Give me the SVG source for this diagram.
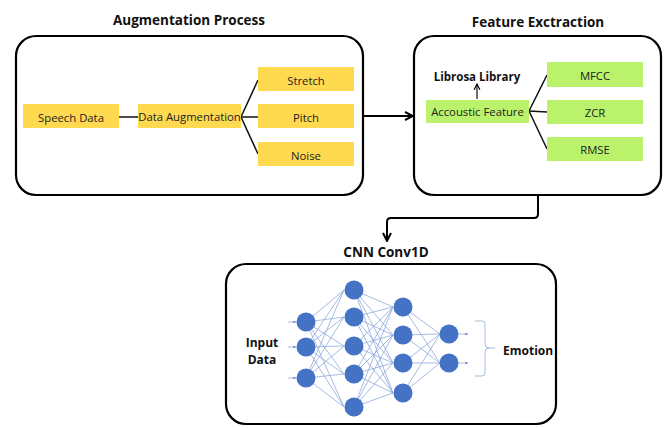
<svg xmlns="http://www.w3.org/2000/svg" width="665" height="428" viewBox="0 0 665 428">
<defs>
<style>
.frame{fill:#fff;stroke:#000;stroke-width:2.2}
.title{font-family:"Open Sans","Liberation Sans",sans-serif;font-weight:bold;font-size:13.5px;fill:#111;text-anchor:middle}
.lbl{font-family:"Open Sans","Liberation Sans",sans-serif;font-size:11.3px;fill:#222;text-anchor:middle}
.blbl{font-family:"Open Sans","Liberation Sans",sans-serif;font-weight:bold;font-size:11.5px;fill:#111;text-anchor:middle}
.yel{fill:#FFD94F}
.grn{fill:#BAF26C}
.ln{stroke:#111;stroke-width:1.5;fill:none}
.net{stroke:#8FAADC;stroke-width:0.8;fill:none}
.nd{fill:#4472C4}
</style>
<marker id="ah" viewBox="0 0 10 10" refX="9" refY="5" markerWidth="5" markerHeight="5" orient="auto"><path d="M1,1 L9,5 L1,9" fill="none" stroke="#000" stroke-width="2"/></marker>
<marker id="sah" viewBox="0 0 10 10" refX="9" refY="5" markerWidth="6" markerHeight="6" orient="auto"><path d="M1,1 L9,5 L1,9" fill="none" stroke="#000" stroke-width="1.6"/></marker>
<marker id="nah" viewBox="0 0 10 10" refX="9" refY="5" markerWidth="4" markerHeight="4" orient="auto"><path d="M0,1 L10,5 L0,9 Z" fill="#6F8FD0"/></marker>
</defs>

<g id="augmentation">
<text class="title" x="189" y="25">Augmentation Process</text>
<rect class="frame" x="16" y="36" width="347" height="159" rx="20"/>
</g>

<g id="feature">
<text class="title" x="538" y="27">Feature Exctraction</text>
<rect class="frame" x="414" y="36" width="247" height="159" rx="20"/>
</g>

<g id="cnn">
<text class="title" x="386" y="257">CNN Conv1D</text>
<rect class="frame" x="226" y="264" width="330" height="160" rx="20"/>
</g>

<g id="connectors">
<line class="ln" x1="119" y1="117" x2="138" y2="117"/>
<line class="ln" x1="241" y1="117" x2="258" y2="80"/>
<line class="ln" x1="241" y1="117" x2="258" y2="117"/>
<line class="ln" x1="241" y1="117" x2="258" y2="154"/>
<line class="ln" x1="529" y1="111" x2="547" y2="75"/>
<line class="ln" x1="529" y1="111" x2="547" y2="112"/>
<line class="ln" x1="529" y1="111" x2="547" y2="149"/>
<line x1="477" y1="99" x2="477" y2="84" stroke="#111" stroke-width="1.2" marker-end="url(#sah)"/>
<line x1="363" y1="116" x2="413" y2="116" stroke="#000" stroke-width="2" marker-end="url(#ah)"/>
<path d="M538,195 V214 Q538,218 534,218 H391 Q387,218 387,222 V241" fill="none" stroke="#000" stroke-width="2" marker-end="url(#ah)"/>
</g>

<g id="speech-data"><rect class="yel" x="23" y="104" width="96" height="24"/><text class="lbl" x="71" y="121.5">Speech Data</text></g>
<g id="data-augmentation"><rect class="yel" x="138" y="104" width="103" height="24"/><text class="lbl" x="189.5" y="120.5">Data Augmentation</text></g>
<g id="stretch"><rect class="yel" x="258" y="67" width="96" height="24"/><text class="lbl" x="306" y="84.5">Stretch</text></g>
<g id="pitch"><rect class="yel" x="258" y="104" width="96" height="24"/><text class="lbl" x="306" y="121.5">Pitch</text></g>
<g id="noise"><rect class="yel" x="258" y="142" width="96" height="24"/><text class="lbl" x="306" y="159.5">Noise</text></g>

<g id="librosa"><text class="blbl" x="477" y="81">Librosa Library</text></g>
<g id="accoustic"><rect class="grn" x="426" y="100" width="103" height="23"/><text class="lbl" x="477.5" y="115.5">Accoustic Feature</text></g>
<g id="mfcc"><rect class="grn" x="547" y="62" width="96" height="25"/><text class="lbl" x="595" y="80">MFCC</text></g>
<g id="zcr"><rect class="grn" x="547" y="100" width="96" height="24"/><text class="lbl" x="595" y="117">ZCR</text></g>
<g id="rmse"><rect class="grn" x="547" y="137" width="96" height="24"/><text class="lbl" x="595" y="154">RMSE</text></g>

<g id="network">
<g class="net">
<line x1="288" y1="322" x2="296" y2="322" marker-end="url(#nah)"/>
<line x1="288" y1="347" x2="296" y2="347" marker-end="url(#nah)"/>
<line x1="288" y1="378" x2="296" y2="378" marker-end="url(#nah)"/>
<path d="M306,322 L344,290 M306,322 L344,317 M306,322 L344,346 M306,322 L344,374 M306,322 L344,407
M306,347 L344,290 M306,347 L344,317 M306,347 L344,346 M306,347 L344,374 M306,347 L344,407
M306,378 L344,290 M306,378 L344,317 M306,378 L344,346 M306,378 L344,374 M306,378 L344,407"/>
<path d="M354,290 L393,307 M354,290 L393,335 M354,290 L393,363 M354,290 L393,393
M354,317 L393,307 M354,317 L393,335 M354,317 L393,363 M354,317 L393,393
M354,346 L393,307 M354,346 L393,335 M354,346 L393,363 M354,346 L393,393
M354,374 L393,307 M354,374 L393,335 M354,374 L393,363 M354,374 L393,393
M354,407 L393,307 M354,407 L393,335 M354,407 L393,363 M354,407 L393,393"/>
<path d="M403,307 L440,334 M403,307 L440,363 M403,335 L440,334 M403,335 L440,363
M403,363 L440,334 M403,363 L440,363 M403,393 L440,334 M403,393 L440,363"/>
<line x1="458" y1="334" x2="468" y2="334" marker-end="url(#nah)"/>
<line x1="458" y1="363" x2="468" y2="363" marker-end="url(#nah)"/>
<path d="M475,321 H482 Q485,321 485,324 V344 Q485,348 489,348 H495 M489,348 Q485,348 485,352 V373 Q485,376 482,376 H475"/>
</g>
<circle class="nd" cx="306" cy="322" r="9.5"/>
<circle class="nd" cx="306" cy="347" r="9.5"/>
<circle class="nd" cx="306" cy="378" r="9.5"/>
<circle class="nd" cx="354" cy="290" r="9.5"/>
<circle class="nd" cx="354" cy="317" r="9.5"/>
<circle class="nd" cx="354" cy="346" r="9.5"/>
<circle class="nd" cx="354" cy="374" r="9.5"/>
<circle class="nd" cx="354" cy="407" r="9.5"/>
<circle class="nd" cx="403" cy="307" r="9.5"/>
<circle class="nd" cx="403" cy="335" r="9.5"/>
<circle class="nd" cx="403" cy="363" r="9.5"/>
<circle class="nd" cx="403" cy="393" r="9.5"/>
<circle class="nd" cx="449" cy="334" r="9.5"/>
<circle class="nd" cx="449" cy="363" r="9.5"/>
</g>

<g id="input-data"><text class="blbl" x="262" y="347" style="font-size:12px">Input</text><text class="blbl" x="262" y="364" style="font-size:12px">Data</text></g>
<g id="emotion"><text class="blbl" x="503" y="355" style="font-size:12px;text-anchor:start">Emotion</text></g>
</svg>
